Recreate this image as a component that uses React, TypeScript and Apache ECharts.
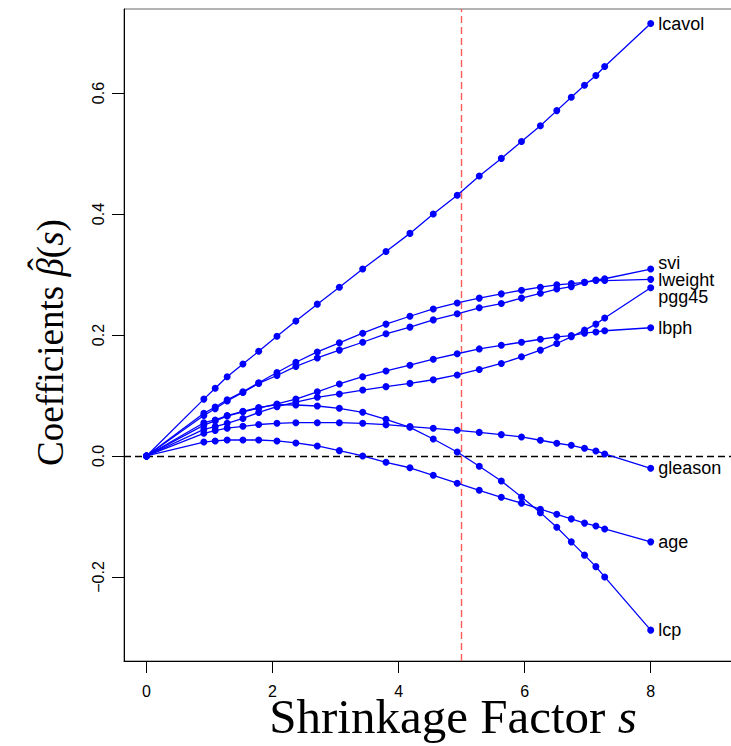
import React, { useEffect, useRef } from "react";
import * as echarts from "echarts";

const S = [0, 0.91, 1.09, 1.28, 1.53, 1.78, 2.07, 2.37, 2.71, 3.06, 3.43, 3.8, 4.18, 4.55, 4.93, 5.28, 5.63, 5.95, 6.25, 6.51, 6.74, 6.95, 7.13, 7.27, 8.0];

const lcavol = [0, 0.094, 0.112, 0.131, 0.152, 0.173, 0.198, 0.223, 0.251, 0.279, 0.309, 0.338, 0.368, 0.4, 0.431, 0.463, 0.492, 0.52, 0.546, 0.571, 0.593, 0.613, 0.629, 0.644, 0.715];
const lweight = [0, 0.0705, 0.081, 0.093, 0.106, 0.121, 0.138, 0.155, 0.172, 0.187, 0.203, 0.218, 0.231, 0.243, 0.253, 0.261, 0.268, 0.274, 0.279, 0.283, 0.285, 0.287, 0.29, 0.29, 0.292];
const svi = [0, 0.067, 0.078, 0.091, 0.105, 0.12, 0.133, 0.148, 0.162, 0.175, 0.188, 0.202, 0.213, 0.225, 0.235, 0.245, 0.252, 0.261, 0.269, 0.276, 0.28, 0.287, 0.291, 0.293, 0.309];
const lbph = [0, 0.051, 0.058, 0.066, 0.073, 0.079, 0.086, 0.094, 0.106, 0.119, 0.131, 0.1405, 0.15, 0.16, 0.169, 0.177, 0.183, 0.188, 0.193, 0.197, 0.199, 0.203, 0.205, 0.207, 0.212];
const pgg45 = [0, 0.044, 0.0485, 0.054, 0.062, 0.072, 0.0815, 0.089, 0.097, 0.1025, 0.109, 0.1146, 0.12, 0.126, 0.134, 0.143, 0.153, 0.164, 0.175, 0.186, 0.197, 0.208, 0.218, 0.228, 0.278];
const lcp = [0, 0.055, 0.0595, 0.0667, 0.0738, 0.08, 0.085, 0.0843, 0.0826, 0.0788, 0.0722, 0.0606, 0.0474, 0.028, 0.0065, -0.017, -0.0413, -0.0678, -0.0937, -0.118, -0.142, -0.164, -0.183, -0.2, -0.288];
const gleason = [0, 0.0375, 0.042, 0.046, 0.049, 0.052, 0.054, 0.055, 0.055, 0.055, 0.054, 0.0518, 0.0485, 0.0457, 0.0424, 0.039, 0.0353, 0.0314, 0.026, 0.021, 0.0176, 0.0127, 0.0083, 0.0033, -0.0204];
const age = [0, 0.023, 0.0248, 0.0264, 0.0264, 0.0264, 0.0248, 0.0215, 0.0165, 0.0088, 0, -0.0105, -0.0195, -0.032, -0.045, -0.0567, -0.0683, -0.078, -0.088, -0.0964, -0.104, -0.111, -0.1157, -0.1207, -0.142];

const seriesList: [string, number[], number][] = [
  ["lcavol", lcavol, 0],
  ["svi", svi, -6],
  ["lweight", lweight, 1],
  ["pgg45", pgg45, 9],
  ["lbph", lbph, 0],
  ["gleason", gleason, 0],
  ["age", age, 0],
  ["lcp", lcp, 0],
];

const xTicks = [0, 2, 4, 6, 8];
const yTicks = [-0.2, 0, 0.2, 0.4, 0.6];
const refX = 5;

const SANS = "Liberation Sans";
const SERIF = "Liberation Serif";

function textWidth(txt: string, font: string): number {
  const c = document.createElement("canvas").getContext("2d");
  if (!c) return txt.length * 15;
  c.font = font;
  return c.measureText(txt).width;
}

export default function App() {
  const ref = useRef<HTMLDivElement>(null);
  useEffect(() => {
    if (!ref.current) return;
    const chart = echarts.init(ref.current, undefined, { renderer: "svg" });
    const series: any[] = seriesList.map(([name, vals, dy], k) => ({
      type: "line",
      name,
      data: vals.map((v, i) =>
        i === vals.length - 1
          ? {
              value: [S[i], v],
              label: {
                show: true,
                position: "right",
                distance: 4,
                offset: [0, dy],
                formatter: name,
                color: "#000",
                fontFamily: SANS,
                fontSize: 18,
              },
            }
          : [S[i], v]
      ),
      symbol: "circle",
      symbolSize: 7,
      showAllSymbol: true,
      lineStyle: { color: "#0000ff", width: 1.3 },
      itemStyle: { color: "#0000ff" },
      z: 3,
      ...(k === 0
        ? {
            markLine: {
              silent: true,
              symbol: "none",
              label: { show: false },
              z: 2,
              data: [
                { yAxis: 0, lineStyle: { color: "#000", type: [7, 4], width: 1.3 } },
                { xAxis: refX, lineStyle: { color: "#ff5a5a", type: [7, 4], width: 1.4 } },
              ],
            },
          }
        : {}),
    }));

    // y title pieces
    const yfs = 37;
    const wCoef = textWidth("Coefficients ", `${yfs}px "${SERIF}"`);
    const wBeta = textWidth("\u03B2", `italic ${yfs}px "${SERIF}"`);
    const mid = -0.33 * yfs;

    chart.setOption({
      animation: false,
      backgroundColor: "#fff",
      grid: {
        left: 124,
        top: 9,
        right: -1,
        bottom: 85,
        containLabel: false,
        outerBoundsMode: "none",
        show: true,
        borderColor: "#666",
        borderWidth: 1,
      },
      xAxis: {
        type: "value",
        min: -0.357,
        max: 9.29,
        splitLine: { show: false },
        axisLine: { show: true, onZero: false, lineStyle: { color: "#000" } },
        axisTick: { show: true, length: 12, customValues: xTicks, lineStyle: { color: "#000" } },
        axisLabel: {
          customValues: xTicks,
          margin: 22,
          color: "#000",
          fontFamily: SANS,
          fontSize: 16,
          formatter: (v: number) => String(v),
        },
      },
      yAxis: {
        type: "value",
        min: -0.339,
        max: 0.739,
        splitLine: { show: false },
        axisLine: { show: true, onZero: false, lineStyle: { color: "#000" } },
        axisTick: { show: true, length: 12, customValues: yTicks, lineStyle: { color: "#000" } },
        axisLabel: {
          customValues: yTicks,
          rotate: 90,
          margin: 18,
          color: "#000",
          fontFamily: SANS,
          fontSize: 16,
          formatter: (v: number) => (v < 0 ? "\u2212" + Math.abs(v).toFixed(1) : v.toFixed(1)),
        },
      },
      graphic: [
        {
          type: "text",
          x: 453,
          y: 716,
          style: {
            text: "{a|Shrinkage Factor }{b|s}",
            align: "center",
            verticalAlign: "middle",
            rich: {
              a: { fontFamily: SERIF, fontSize: 49, lineHeight: 32, fill: "#000" },
              b: { fontFamily: SERIF, fontSize: 49, lineHeight: 32, fontStyle: "italic", fill: "#000" },
            },
          },
        },
        {
          type: "group",
          x: 63,
          y: 466,
          rotation: Math.PI / 2,
          children: [
            {
              type: "text",
              x: 0,
              y: mid,
              style: {
                text: "{a|Coefficients }{b|\u03B2}{a|(}{b|s}{a|)}",
                align: "left",
                verticalAlign: "middle",
                rich: {
                  a: { fontFamily: SERIF, fontSize: yfs, fill: "#000" },
                  b: { fontFamily: SERIF, fontSize: yfs, fontStyle: "italic", fill: "#000" },
                },
              },
            },
            {
              type: "text",
              x: wCoef + wBeta / 2 + 3,
              y: mid - 0.24 * yfs,
              style: {
                text: "\u02C6",
                align: "center",
                verticalAlign: "middle",
                fontFamily: SERIF,
                fontSize: yfs,
                fill: "#000",
              },
            },
          ],
        },
      ],
      series,
    });
    return () => chart.dispose();
  }, []);
  return (
    <div
      ref={ref}
      style={{ position: "fixed", left: 0, top: 0, width: 731, height: 746 }}
    />
  );
}
